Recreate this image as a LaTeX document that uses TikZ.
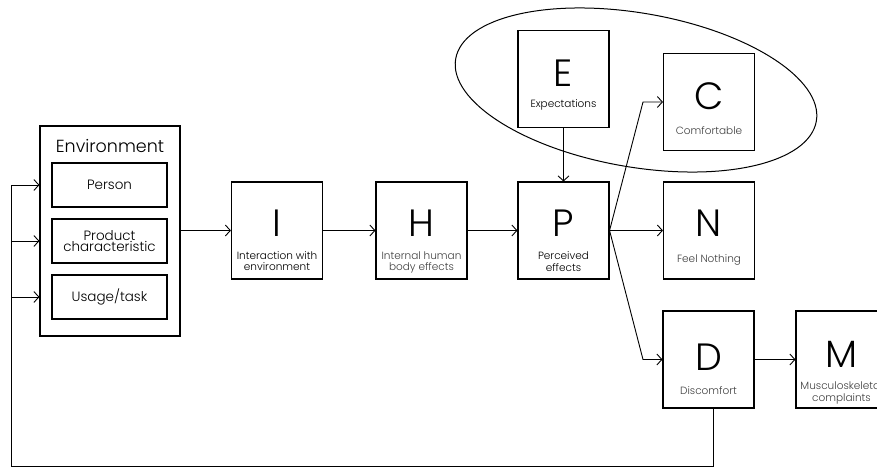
\documentclass[tikz,border=0pt]{standalone}
\usepackage{fontspec}
\setmainfont{Poppins}[UprightFont=* Light]
\usetikzlibrary{arrows.meta}
\begin{document}
\begin{tikzpicture}[x=1pt,y=-1pt,
  box/.style={draw, line width=1.1pt, inner sep=0pt, minimum width=91pt, minimum height=97pt},
  envbox/.style={draw, line width=1.1pt, inner sep=0pt, minimum width=140pt, minimum height=210pt},
  inbox/.style={draw, line width=1.8pt, inner sep=0pt, minimum width=115pt, minimum height=44pt,
    align=center, font=\fontsize{13.5}{11}\selectfont},
  big/.style={font=\fontsize{38}{38}\selectfont, inner sep=0pt, anchor=base},
  small/.style={font=\fontsize{10.5}{11.5}\selectfont, align=center, inner sep=0pt, anchor=base, text=black!75},
  dark/.style={text=black},
  link/.style={line width=0.9pt, -{Straight Barb[length=5pt,width=11pt]}},
  line/.style={line width=0.9pt}
]
\useasboundingbox (0,0) rectangle (877,468);
\clip (0,0) rectangle (877,468);

% ellipse grouping expectations and comfort
\draw[line width=1pt, rotate around={-9.8:(636,90)}] (636,90) ellipse [x radius=183pt, y radius=77pt];

% environment block
\node[envbox] (env) at (110,231) {};
\node[font=\fontsize{17.5}{17.5}\selectfont, inner sep=0pt, anchor=base] (envt) at (110,152) {Environment};
\node[inbox] (person) at (109.5,185) {Person};
\node[inbox] (product) at (109.5,241) {Product\\characteristic};
\node[inbox] (usage) at (109.5,297) {Usage/task};

% main chain
\node[box] (I) at (277,230.5) {};
\node[box] (H) at (421.5,230.5) {};
\node[box] (P) at (563.5,230.5) {};
\node[box] (N) at (709,230.5) {};
\node[box] (E) at (563.5,79) {};
\node[box] (C) at (709,102) {};
\node[box] (D) at (708.5,359.5) {};
\node[box] (M) at (841.5,359.5) {};

\node[big] (Il) at ([yshift=-5.5pt]I.center) {I};
\node[big] (Hl) at ([yshift=-5.5pt]H.center) {H};
\node[big] (Pl) at ([yshift=-5.5pt]P.center) {P};
\node[big] (Nl) at ([yshift=-5.5pt]N.center) {N};
\node[big] (El) at ([yshift=-8pt]E.center) {E};
\node[big] (Cl) at ([yshift=-8pt]C.center) {C};
\node[big] (Dl) at ([yshift=-10.5pt]D.center) {D};
\node[big] (Ml) at ([yshift=-7.5pt]M.center) {M};

% label nodes sit on the baseline of their last line
\node[small, dark] (It) at ([yshift=-40pt]I.center) {Interaction with\\environment};
\node[small] (Ht) at ([yshift=-40pt]H.center) {Internal human\\body effects};
\node[small, dark] (Pt) at ([yshift=-40.5pt]P.center) {Perceived\\effects};
\node[small] (Nt) at ([yshift=-31.5pt]N.center) {Feel Nothing};
\node[small, dark] (Et) at ([yshift=-29pt]E.center) {Expectations};
\node[small] (Ct) at ([yshift=-33pt]C.center) {Comfortable};
\node[small] (Dt) at ([yshift=-35pt]D.center) {Discomfort};
\node[small] (Mt) at ([yshift=-41.5pt]M.center) {Musculoskeletal\\complaints};

% connectors
\coordinate (bc) at (643,102);
\coordinate (bd) at (643,359.5);
\draw[link] (env.east |- I.west) -- (I.west);
\draw[link] (I) -- (H);
\draw[link] (H) -- (P);
\draw[link] (P) -- (N);
\draw[link] (E) -- (P);
\draw[link] (P.east) -- (bc) -- (C.west);
\draw[link] (P.east) -- (bd) -- (D.west);
\draw[link] (D) -- (M);

% feedback loop back to the environment
\coordinate (fbd) at ([xshift=4.5pt]D.south);
\coordinate (fbl) at (11,466);
\draw[line] (fbd) |- (fbl) -- (fbl |- person.west);
\draw[link] (fbl |- person.west) -- (env.west |- person.west);
\draw[link] (fbl |- product.west) -- (env.west |- product.west);
\draw[link] (fbl |- usage.west) -- (env.west |- usage.west);
\end{tikzpicture}
\end{document}
